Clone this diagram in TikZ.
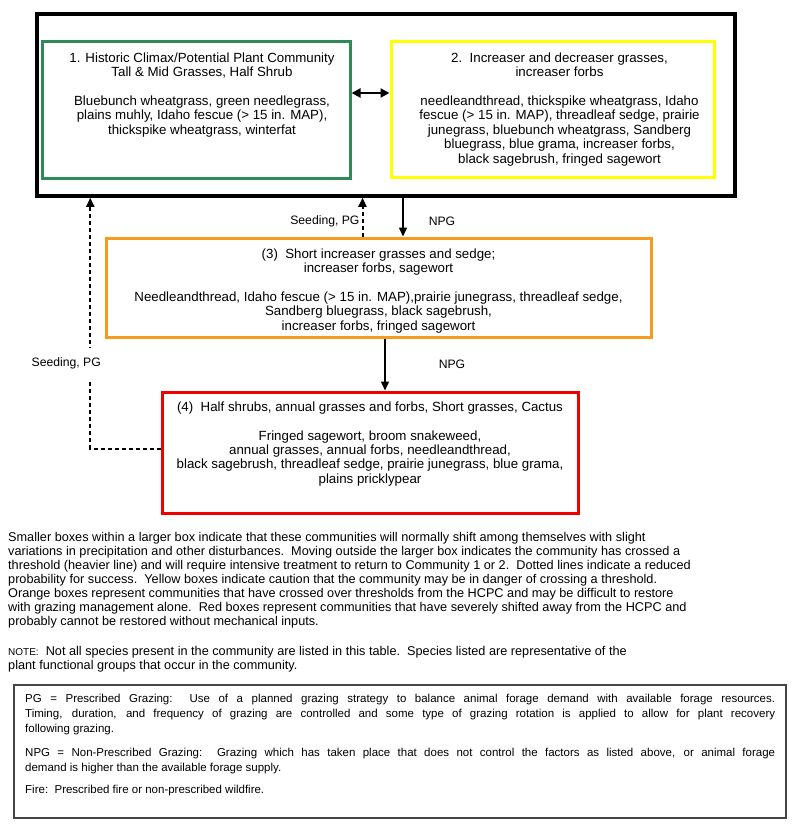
\documentclass[tikz,border=0pt]{standalone}
\usepackage{fontspec}
\setmainfont{Liberation Sans}
\usetikzlibrary{arrows.meta,positioning}
\definecolor{hcpcgreen}{RGB}{46,139,87}
\definecolor{cautionyellow}{RGB}{255,255,0}
\definecolor{shiftorange}{RGB}{245,155,30}
\definecolor{severered}{RGB}{240,0,0}
\definecolor{legendgray}{RGB}{70,70,70}
\newcommand{\legendline}[1]{\makebox[750pt][s]{#1}}

\begin{document}
\begin{tikzpicture}[x=1pt,y=-1pt,
    statebox/.style={draw,line width=3pt,inner sep=0pt},
    boxtext/.style={anchor=north,align=center,inner sep=0pt,font=\fontsize{13.3}{14.4}\selectfont},
    arrowlabel/.style={font=\fontsize{12.2}{14}\selectfont,inner sep=1pt},
    npgarrow/.style={line width=1.5pt,-{Triangle[length=9pt,width=8pt]}},
    seedarrow/.style={line width=2pt,dash pattern=on 4pt off 3pt,-{Triangle[length=9pt,width=8pt]}}]
  \useasboundingbox (0,0) rectangle (800,839);

  % state boxes
  \node[statebox,line width=3.5pt,minimum width=698,minimum height=182] (outer) at (386,105) {};
  \node[statebox,draw=hcpcgreen,minimum width=308,minimum height=137] (hcpc) at (196,109.5) {};
  \node[statebox,draw=cautionyellow,minimum width=323,minimum height=136] (incr) at (552.5,109) {};
  \node[statebox,draw=shiftorange,minimum width=545,minimum height=99] (short) at (378.5,287.5) {};
  \node[statebox,draw=severered,minimum width=416,minimum height=121] (shrub) at (370,452.5) {};

  \node[boxtext,below=13pt of hcpc.north,xshift=6pt] (hcpctxt) {1. Historic Climax/Potential Plant Community\\
    Tall \& Mid Grasses, Half Shrub\\[14.4pt]
    Bluebunch wheatgrass, green needlegrass,\\
    plains muhly, Idaho fescue (> 15 in. MAP),\\
    thickspike wheatgrass, winterfat};
  \node[boxtext,below=13pt of incr.north,xshift=7pt] (incrtxt) {2.\ \ Increaser and decreaser grasses,\\
    increaser forbs\\[14.4pt]
    needleandthread, thickspike wheatgrass, Idaho\\
    fescue (> 15 in. MAP), threadleaf sedge, prairie\\
    junegrass, bluebunch wheatgrass, Sandberg\\
    bluegrass, blue grama, increaser forbs,\\
    black sagebrush, fringed sagewort};
  \node[boxtext,below=12pt of short.north] (shorttxt) {(3)\ \ Short increaser grasses and sedge;\\
    increaser forbs, sagewort\\[14.4pt]
    Needleandthread, Idaho fescue (> 15 in. MAP),prairie junegrass, threadleaf sedge,\\
    Sandberg bluegrass, black sagebrush,\\
    increaser forbs, fringed sagewort};
  \node[boxtext,below=11pt of shrub.north] (shrubtxt) {(4)\ \ Half shrubs, annual grasses and forbs, Short grasses, Cactus\\[14.4pt]
    Fringed sagewort, broom snakeweed,\\
    annual grasses, annual forbs, needleandthread,\\
    black sagebrush, threadleaf sedge, prairie junegrass, blue grama,\\
    plains pricklypear};

  % transitions
  \draw[line width=2pt,{Triangle[length=9pt,width=9pt]}-{Triangle[length=9pt,width=9pt]}]
    ([yshift=16.5pt]hcpc.east) -- ([yshift=16.5pt]hcpc.east -| incr.west);
  \draw[npgarrow] ([xshift=17pt]outer.south) -- ([xshift=17pt]outer.south |- short.north)
    node[arrowlabel,midway,right=24pt,yshift=-4pt] (npgone) {NPG};
  \draw[seedarrow] ([xshift=-16pt]short.north) -- ([xshift=-16pt]short.north |- outer.south)
    node[arrowlabel,midway,left=1pt,yshift=-4pt] (seedone) {Seeding, PG};
  \draw[npgarrow] ([xshift=6.5pt]short.south) -- ([xshift=6.5pt]short.south |- shrub.north)
    node[arrowlabel,midway,right=52pt] (npgtwo) {NPG};
  \draw[seedarrow] ([yshift=4pt]shrub.west) -| ([xshift=55pt]outer.south west)
    node[arrowlabel,fill=white,inner ysep=10pt,pos=0.67,xshift=-24pt] (seedtwo) {Seeding, PG};

  % notes
  \node[anchor=north west,align=left,inner sep=0pt,font=\fontsize{12.7}{14}\selectfont] (notes) at (8,532)
    {Smaller boxes within a larger box indicate that these communities will normally shift among themselves with slight\\
    variations in precipitation and other disturbances.\ \ Moving outside the larger box indicates the community has crossed a\\
    threshold (heavier line) and will require intensive treatment to return to Community 1 or 2.\ \ Dotted lines indicate a reduced\\
    probability for success.\ \ Yellow boxes indicate caution that the community may be in danger of crossing a threshold.\\
    Orange boxes represent communities that have crossed over thresholds from the HCPC and may be difficult to restore\\
    with grazing management alone.\ \ Red boxes represent communities that have severely shifted away from the HCPC and\\
    probably cannot be restored without mechanical inputs.\\[16pt]
    {\fontsize{10}{14}\selectfont NOTE:}\ \ Not all species present in the community are listed in this table.\ \ Species listed are representative of the\\
    plant functional groups that occur in the community.};

  % legend
  \node[draw=legendgray,line width=1.8pt,minimum width=772,minimum height=133,inner sep=0pt] (legend) at (400,751.5) {};
  \node[anchor=north west,align=left,inner sep=0pt,font=\fontsize{11.5}{15}\selectfont] (legendtxt) at (25,694)
    {\legendline{PG = Prescribed Grazing:\ \ Use of a planned grazing strategy to balance animal forage demand with available forage resources.}\\
    \legendline{Timing, duration, and frequency of grazing are controlled and some type of grazing rotation is applied to allow for plant recovery}\\
    following grazing.\\[9pt]
    \legendline{NPG = Non-Prescribed Grazing:\ \ Grazing which has taken place that does not control the factors as listed above, or animal forage}\\
    demand is higher than the available forage supply.\\[7pt]
    Fire:\ \ Prescribed fire or non-prescribed wildfire.};
\end{tikzpicture}
\end{document}
